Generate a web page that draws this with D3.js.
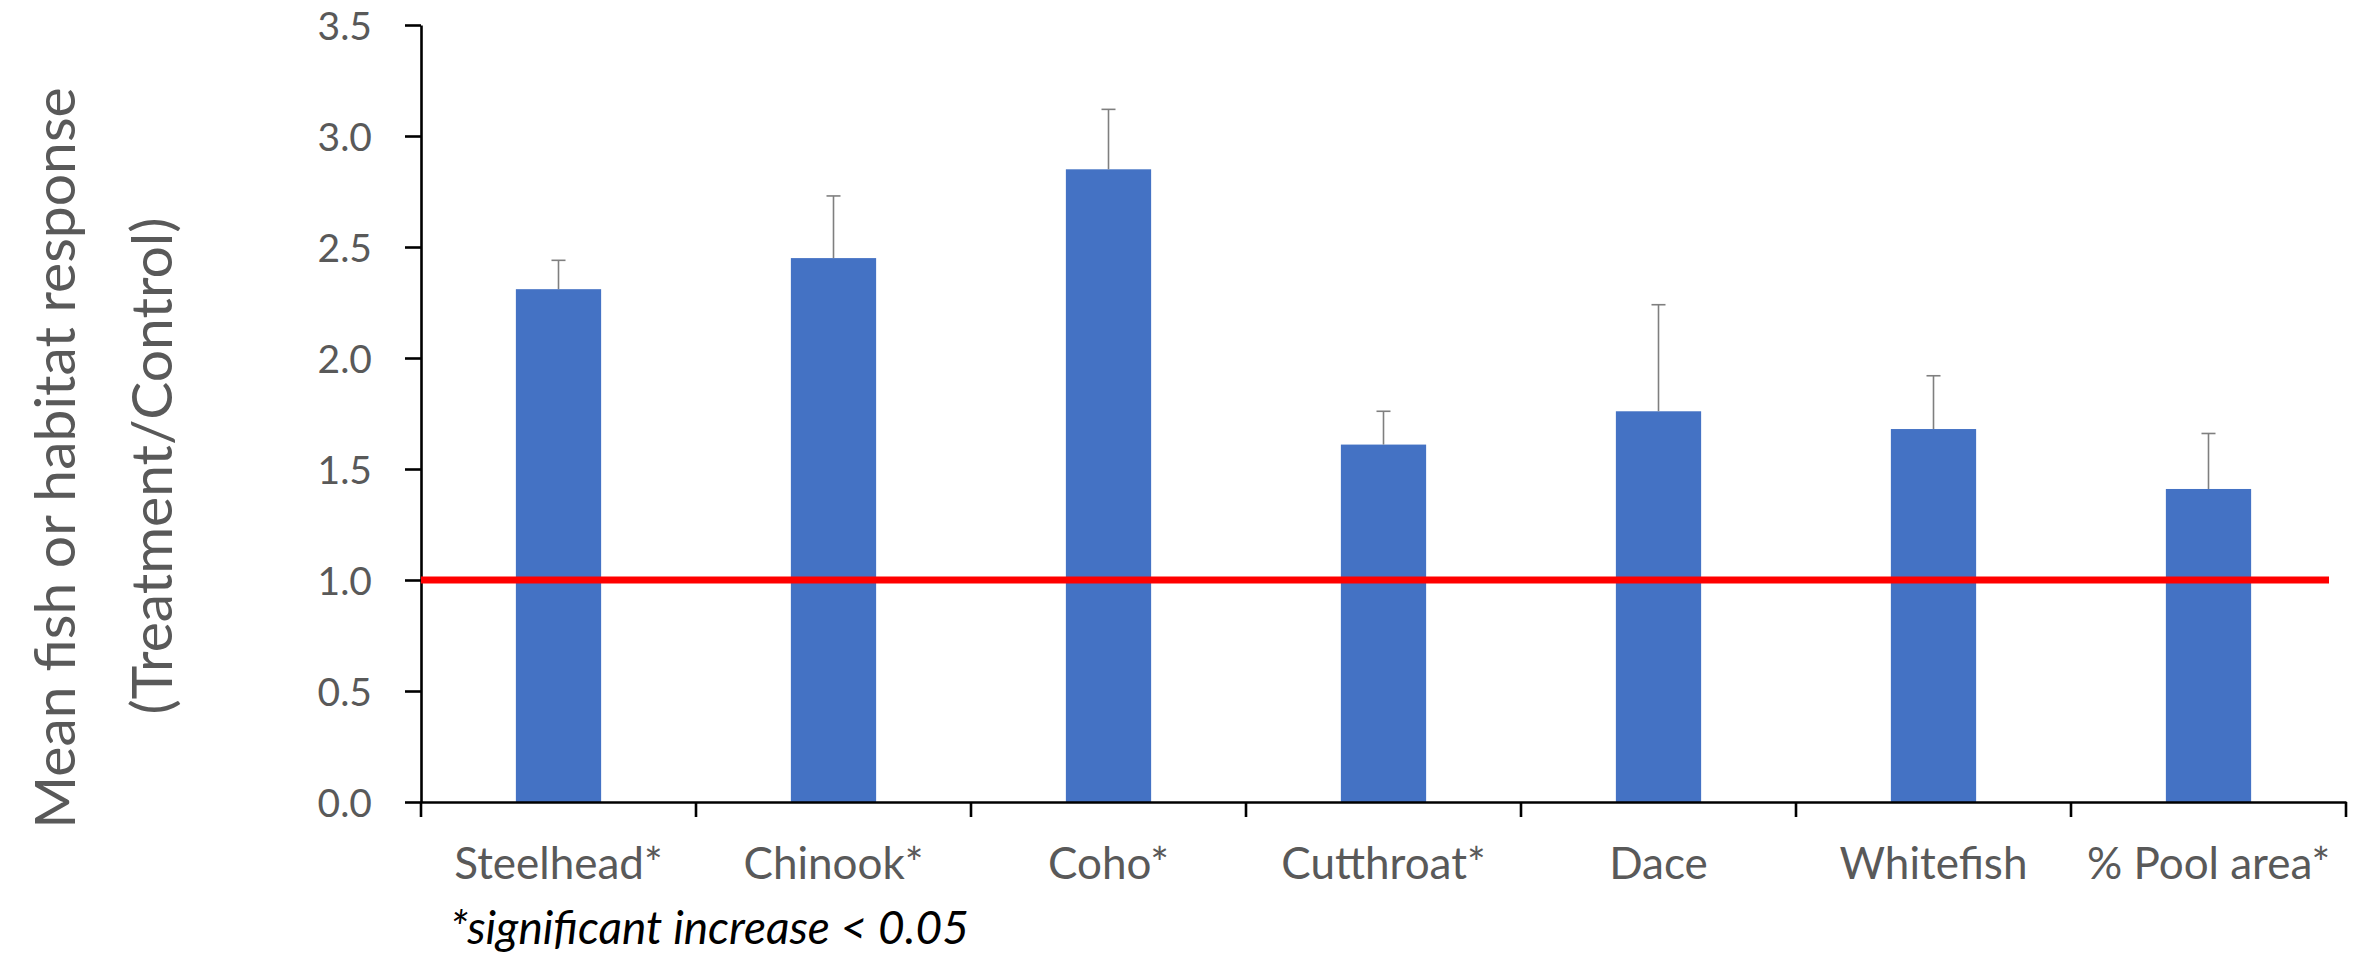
<!DOCTYPE html>
<html>
<head>
<meta charset="utf-8">
<script src="https://cdn.jsdelivr.net/npm/d3@7"></script>
<style>
  html, body { margin: 0; padding: 0; background: #ffffff; }
  svg { display: block; }
  text { font-family: Lato, "Open Sans", "Noto Sans", sans-serif; }
</style>
</head>
<body>
<svg id="chart" width="2367" height="958"></svg>
<script>
// Fish and habitat responses: mean ratio of treatment to control reaches
const categories = ["Steelhead*", "Chinook*", "Coho*", "Cutthroat*", "Dace", "Whitefish", "% Pool area*"];
const meanRatio  = [2.31, 2.45, 2.85, 1.61, 1.76, 1.68, 1.41];
const errorUpper = [2.44, 2.73, 3.12, 1.76, 2.24, 1.92, 1.66];
const yTicks     = [0, 0.5, 1.0, 1.5, 2.0, 2.5, 3.0, 3.5];
const referenceRatio = 1.0;
const yTitleLines = ["Mean fish or habitat response", "(Treatment/Control)"];
const footnote = "*significant increase < 0.05";

const svg = d3.select("#chart");

const plot = { left: 421, right: 2346, top: 25, bottom: 802 };

const x = d3.scaleBand()
  .domain(categories)
  .range([plot.left, plot.right])
  .paddingInner(0)
  .paddingOuter(0);

const y = d3.scaleLinear()
  .domain([0, 3.5])
  .range([plot.bottom, plot.top]);

const barWidth = x.bandwidth() * 0.31;
const data = categories.map((c, i) => ({ cat: c, value: meanRatio[i], upper: errorUpper[i] }));

// Bars
svg.append("g")
  .selectAll("rect")
  .data(data)
  .join("rect")
  .attr("x", d => x(d.cat) + (x.bandwidth() - barWidth) / 2)
  .attr("y", d => y(d.value))
  .attr("width", barWidth)
  .attr("height", d => y(0) - y(d.value))
  .attr("fill", "#4472c4");

// Upper error bars
const err = svg.append("g").attr("stroke", "#7f7f7f").attr("stroke-width", 1.6);
const capHalf = 7;
data.forEach(d => {
  const cx = x(d.cat) + x.bandwidth() / 2;
  err.append("line")
    .attr("x1", cx).attr("x2", cx)
    .attr("y1", y(d.value)).attr("y2", y(d.upper));
  err.append("line")
    .attr("x1", cx - capHalf).attr("x2", cx + capHalf)
    .attr("y1", y(d.upper)).attr("y2", y(d.upper));
});

// Y axis
const yAxis = svg.append("g")
  .attr("transform", `translate(${plot.left},0)`)
  .call(d3.axisLeft(y)
    .tickValues(yTicks)
    .tickFormat(d3.format(".1f"))
    .tickSize(16)
    .tickSizeOuter(0)
    .tickPadding(33));
yAxis.select(".domain").attr("stroke", "#000").attr("stroke-width", 2.6);
yAxis.selectAll(".tick line").attr("stroke", "#000").attr("stroke-width", 2.6);
yAxis.selectAll(".tick text")
  .attr("fill", "#595959")
  .attr("dy", "0.36em")
  .style("font-size", "39px");

// X axis: labels centred in each band, ticks at band boundaries
const xAxis = svg.append("g")
  .attr("transform", `translate(0,${plot.bottom})`)
  .call(d3.axisBottom(x).tickSize(0).tickSizeOuter(0).tickPadding(46));
xAxis.select(".domain").attr("stroke", "#000").attr("stroke-width", 2.6);
xAxis.selectAll(".tick text")
  .attr("fill", "#595959")
  .style("font-size", "44px");

const boundaries = categories.map(c => x(c)).concat([x.range()[1]]);
xAxis.append("g")
  .selectAll("line")
  .data(boundaries)
  .join("line")
  .attr("x1", d => d).attr("x2", d => d)
  .attr("y1", 0).attr("y2", 15)
  .attr("stroke", "#000")
  .attr("stroke-width", 2.6);

// Reference line at ratio = 1
svg.append("line")
  .attr("x1", plot.left)
  .attr("x2", plot.right - 17)
  .attr("y1", y(referenceRatio))
  .attr("y2", y(referenceRatio))
  .attr("stroke", "#ff0000")
  .attr("stroke-width", 7);

// Y axis title (two lines)
const yTitle = svg.append("g").attr("fill", "#595959").style("font-size", "57px");
yTitleLines.forEach((line, i) => {
  yTitle.append("text")
    .attr("transform", `translate(${[75, 172][i]},${[458, 466][i]}) rotate(-90)`)
    .attr("text-anchor", "middle")
    .text(line);
});

// Footnote
svg.append("text")
  .attr("x", 450)
  .attr("y", 944)
  .attr("fill", "#000")
  .style("font-size", "46px")
  .style("font-style", "italic")
  .text(footnote);
</script>
</body>
</html>
